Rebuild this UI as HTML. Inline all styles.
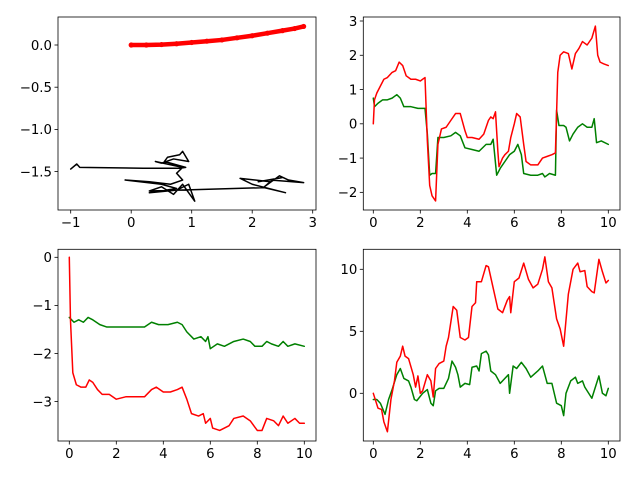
<!DOCTYPE html>
<html><head><meta charset="utf-8"><style>
body{margin:0;background:#fff}
svg text{font-family:"DejaVu Sans","Liberation Sans",sans-serif;font-size:13.3px;fill:#000}
</style></head><body>
<svg id="fig" width="640" height="480" xmlns="http://www.w3.org/2000/svg"></svg>
<script>
// Top-left data
const tlRedX=[0,0.25,0.5,0.75,1.0,1.25,1.5,1.75,2.0,2.25,2.5,2.7,2.85];
const tlRedY=[0,0.0,0.005,0.015,0.03,0.045,0.06,0.085,0.11,0.14,0.17,0.195,0.22];
const tlBlackX=[-1.0,-0.9,-0.85,0.2,0.8,0.9,0.55,0.6,0.8,0.85,0.95,0.7,0.5,0.4,0.85,0.75,0.85,0.65,0.3,-0.1,0.5,0.75,0.3,0.75,0.95,1.05,0.85,0.7,0.5,0.3,2.2,2.55,2.0,1.8,2.3,2.2,2.45,2.6,2.85,2.3,2.5,2.1];
const tlBlackY=[-1.47,-1.41,-1.45,-1.46,-1.46,-1.45,-1.38,-1.33,-1.30,-1.26,-1.38,-1.35,-1.40,-1.38,-1.45,-1.52,-1.60,-1.65,-1.62,-1.60,-1.65,-1.70,-1.75,-1.72,-1.65,-1.85,-1.65,-1.77,-1.68,-1.73,-1.69,-1.75,-1.65,-1.58,-1.62,-1.68,-1.55,-1.60,-1.63,-1.60,-1.57,-1.62];
// Top-right data
const trRedX=[0,0.05,0.15,0.3,0.45,0.6,0.8,0.95,1.1,1.25,1.4,1.6,1.8,2.0,2.1,2.2,2.3,2.4,2.5,2.65,2.75,2.9,3.1,3.3,3.5,3.7,3.9,4.0,4.2,4.5,4.7,4.9,5.0,5.1,5.2,5.3,5.35,5.5,5.6,5.75,5.85,6.0,6.1,6.25,6.4,6.5,6.7,7.0,7.2,7.4,7.6,7.75,7.85,7.95,8.1,8.3,8.45,8.6,8.75,8.9,9.1,9.3,9.45,9.55,9.65,9.8,10];
const trRedY=[0,0.7,0.9,1.1,1.3,1.35,1.5,1.55,1.8,1.7,1.4,1.3,1.3,1.25,1.3,1.35,-0.5,-1.8,-2.1,-2.25,-0.6,-0.15,-0.1,0.1,0.3,0.3,-0.2,-0.4,-0.4,-0.45,-0.3,0.1,0.2,0.15,0.35,-0.8,-1.25,-1.0,-0.9,-0.8,-0.4,0.0,0.3,0.2,-0.6,-1.1,-1.2,-1.2,-1.0,-0.95,-0.9,-0.85,1.5,2.0,2.1,2.05,1.6,2.05,2.2,2.4,2.3,2.5,2.85,2.0,1.8,1.75,1.7];
const trGreenX=[0,0.05,0.2,0.4,0.6,0.8,1.0,1.15,1.3,1.6,1.9,2.2,2.3,2.4,2.5,2.65,2.75,3.0,3.3,3.5,3.7,3.9,4.2,4.5,4.8,5.0,5.1,5.25,5.4,5.6,5.8,6.0,6.15,6.3,6.4,6.7,7.0,7.2,7.3,7.5,7.75,7.8,7.9,8.1,8.2,8.35,8.5,8.7,8.9,9.1,9.3,9.4,9.5,9.7,10];
const trGreenY=[0.75,0.5,0.6,0.7,0.7,0.75,0.85,0.75,0.5,0.5,0.45,0.45,-0.3,-1.5,-1.45,-1.45,-0.4,-0.4,-0.35,-0.25,-0.35,-0.7,-0.75,-0.8,-0.6,-0.6,-0.45,-1.5,-1.3,-1.1,-0.9,-0.8,-0.6,-0.9,-1.45,-1.5,-1.5,-1.45,-1.55,-1.45,-1.5,0.4,-0.05,-0.05,-0.1,-0.5,-0.3,-0.1,0.0,-0.1,-0.1,0.15,-0.55,-0.5,-0.6];
// Bottom-left data
const blRedX=[0,0.05,0.15,0.3,0.5,0.7,0.85,1.0,1.2,1.4,1.7,2.0,2.4,2.8,3.2,3.5,3.7,4.0,4.3,4.6,4.8,5.0,5.2,5.5,5.7,5.8,6.0,6.1,6.4,6.8,7.0,7.4,7.7,8.0,8.2,8.4,8.7,8.9,9.1,9.3,9.6,9.8,10];
const blRedY=[0,-1.3,-2.4,-2.65,-2.7,-2.7,-2.55,-2.6,-2.75,-2.85,-2.85,-2.95,-2.9,-2.9,-2.9,-2.75,-2.7,-2.8,-2.8,-2.75,-2.7,-2.95,-3.25,-3.3,-3.25,-3.45,-3.35,-3.55,-3.6,-3.5,-3.35,-3.3,-3.4,-3.6,-3.6,-3.35,-3.4,-3.5,-3.3,-3.45,-3.35,-3.45,-3.45];
const blGreenX=[0,0.2,0.4,0.6,0.8,1.0,1.3,1.6,2.0,2.4,2.8,3.2,3.5,3.8,4.2,4.6,4.8,5.0,5.3,5.6,5.8,5.9,6.0,6.3,6.6,7.0,7.4,7.7,7.9,8.2,8.4,8.6,8.9,9.1,9.3,9.6,10];
const blGreenY=[-1.25,-1.35,-1.3,-1.35,-1.25,-1.3,-1.4,-1.45,-1.45,-1.45,-1.45,-1.45,-1.35,-1.4,-1.4,-1.35,-1.4,-1.55,-1.7,-1.65,-1.75,-1.65,-1.9,-1.8,-1.85,-1.75,-1.7,-1.75,-1.85,-1.85,-1.75,-1.8,-1.85,-1.75,-1.85,-1.8,-1.85];
// Bottom-right data
const brRedX=[0,0.2,0.35,0.45,0.6,0.75,0.9,1.0,1.15,1.25,1.35,1.5,1.7,1.8,1.9,2.0,2.1,2.3,2.45,2.55,2.65,2.8,3.0,3.1,3.2,3.4,3.55,3.7,3.9,4.05,4.2,4.35,4.4,4.6,4.8,4.9,5.1,5.3,5.5,5.7,5.8,5.85,6.0,6.2,6.4,6.6,6.8,7.0,7.2,7.3,7.45,7.6,7.8,7.95,8.1,8.3,8.5,8.7,8.8,9.0,9.1,9.3,9.4,9.6,9.75,9.9,10];
const brRedY=[0,-1.2,-1.3,-2.3,-3.1,-0.5,1.0,2.5,3.0,3.8,3.0,2.8,1.5,0.5,1.4,0.0,0.2,1.5,1.0,-0.3,2.0,2.4,2.6,3.8,4.5,7.0,6.7,4.5,4.3,4.5,7.0,7.3,9.0,9.0,10.3,10.2,8.5,6.8,6.5,7.5,7.8,6.5,9.0,9.3,10.5,9.2,8.5,8.8,10.0,11.0,9.0,8.5,6.0,5.2,3.8,8.0,10.0,10.5,9.8,9.9,8.6,8.2,8.1,10.8,9.8,8.9,9.1];
const brGreenX=[0,0.15,0.3,0.5,0.65,0.8,1.0,1.15,1.3,1.5,1.6,1.75,1.85,2.1,2.3,2.45,2.55,2.65,2.8,3.0,3.2,3.35,3.5,3.6,3.7,3.9,4.1,4.2,4.4,4.5,4.6,4.8,4.9,5.0,5.2,5.4,5.6,5.75,5.8,5.95,6.1,6.3,6.5,6.7,7.0,7.2,7.3,7.4,7.6,7.8,8.0,8.1,8.2,8.4,8.6,8.7,8.9,9.0,9.3,9.6,9.75,9.9,10];
const brGreenY=[-0.5,-0.5,-0.8,-1.7,-0.5,0.3,1.5,2.0,1.2,1.0,0.5,-0.5,-0.6,0.0,0.3,-0.8,-1.0,0.2,0.4,0.4,1.2,2.6,2.1,1.5,0.5,0.8,0.7,2.1,2.2,1.8,3.2,3.4,3.1,1.8,1.5,0.8,1.2,1.5,0.0,2.2,2.0,2.5,2.0,1.3,1.8,2.2,1.5,0.8,0.8,-0.8,-1.0,-1.8,0.0,1.0,1.3,0.8,1.0,0.5,-0.4,1.4,0.0,-0.2,0.4];

const xTicks10=[0,2,4,6,8,10];
const tlXTicks=[-1,0,1,2,3];
const tlYTicks=[0.0,-0.5,-1.0,-1.5];
const trYTicks=[3,2,1,0,-1,-2];
const blYTicks=[0,-1,-2,-3];
const brYTicks=[10,5,0];

const NS="http://www.w3.org/2000/svg";
const fig=document.getElementById('fig');
function mk(tag,attrs,parent){const e=document.createElementNS(NS,tag);for(const k in attrs)e.setAttribute(k,attrs[k]);(parent||fig).appendChild(e);return e;}
function fmt(v,dec){let s=v.toFixed(dec);return s.replace('-','\u2212');}

function panel(name,box,xd,yd,xt,yt,ydec){
  const g=mk('g',{});
  
  
  const sx=v=>box.x0+(v-xd[0])/(xd[1]-xd[0])*(box.x1-box.x0);
  const sy=v=>box.y1-(v-yd[0])/(yd[1]-yd[0])*(box.y1-box.y0);
  const clipId='c'+name;
  const cp=mk('clipPath',{id:clipId},g);
  mk('rect',{x:box.x0,y:box.y0,width:box.x1-box.x0,height:box.y1-box.y0},cp);
  const plot=mk('g',{'clip-path':'url(#'+clipId+')'},g);
  
  
  xt.forEach(t=>{const x=sx(t);
    const l=mk('line',{x1:x,x2:x,y1:box.y1,y2:box.y1+3.5,stroke:'#000','stroke-width':0.8},g);
    
    
    const tx=mk('text',{x:x,y:box.y1+17,'text-anchor':'middle'},g);tx.textContent=fmt(t,0);
    
    });
  yt.forEach(t=>{const y=sy(t);
    const l=mk('line',{x1:box.x0-3.5,x2:box.x0,y1:y,y2:y,stroke:'#000','stroke-width':0.8},g);
    
    
    const tx=mk('text',{x:box.x0-6,y:y+4.8,'text-anchor':'end'},g);tx.textContent=fmt(t,ydec);
    
    });
  const fr=mk('rect',{x:box.x0,y:box.y0,width:box.x1-box.x0,height:box.y1-box.y0,fill:'none',stroke:'#000','stroke-width':0.8},g);
  
  
  return {plot,sx,sy};
}
function line(p,xs,ys,color,w,nm){
  const d=xs.map((x,i)=>(i?'L':'M')+p.sx(x).toFixed(2)+','+p.sy(ys[i]).toFixed(2)).join('');
  const e=mk('path',{d:d,fill:'none',stroke:color,'stroke-width':w,'stroke-linejoin':'round','stroke-linecap':'round'},p.plot);
  
  
  return e;
}
const tlBox={x0:58,x1:316,y0:17,y1:210};
const tl=panel('top-left-axes',tlBox,[(58-131.2)/60.5,(316-131.2)/60.5],[(45-210)/84.4,(45-17)/84.4],tlXTicks,tlYTicks,1);
line(tl,tlBlackX,tlBlackY,'#000',1.5,'black-trajectory');
line(tl,tlRedX,tlRedY,'red',4.5,'red-curve');
tlRedX.forEach((x,i)=>{const c=mk('circle',{cx:tl.sx(x),cy:tl.sy(tlRedY[i]),r:2.6,fill:'red'},tl.plot);
  
  });
const trBox={x0:363.3,x1:620,y0:17,y1:210};
const tr=panel('top-right-axes',trBox,[(363.3-373.3)/23.5,(620-373.3)/23.5],[3-(210-21)/34.27,3+(21-17)/34.27],xTicks10,trYTicks,0);
line(tr,trGreenX,trGreenY,'green',1.5,'green-series');
line(tr,trRedX,trRedY,'red',1.5,'red-series');
const blBox={x0:58,x1:316,y0:249.3,y1:441};
const bl=panel('bottom-left-axes',blBox,[(58-69.3)/23.5,(316-69.3)/23.5],[-(441-257.3)/48.1,(257.3-249.3)/48.1],xTicks10,blYTicks,0);
line(bl,blGreenX,blGreenY,'green',1.5,'green-series');
line(bl,blRedX,blRedY,'red',1.5,'red-series');
const brBox={x0:363.3,x1:620,y0:249.3,y1:441};
const br=panel('bottom-right-axes',brBox,[(363.3-373.3)/23.5,(620-373.3)/23.5],[-(441-393.3)/12.4,(393.3-249.3)/12.4],xTicks10,brYTicks,0);
line(br,brGreenX,brGreenY,'green',1.5,'green-series');
line(br,brRedX,brRedY,'red',1.5,'red-series');
</script>
</body></html>
